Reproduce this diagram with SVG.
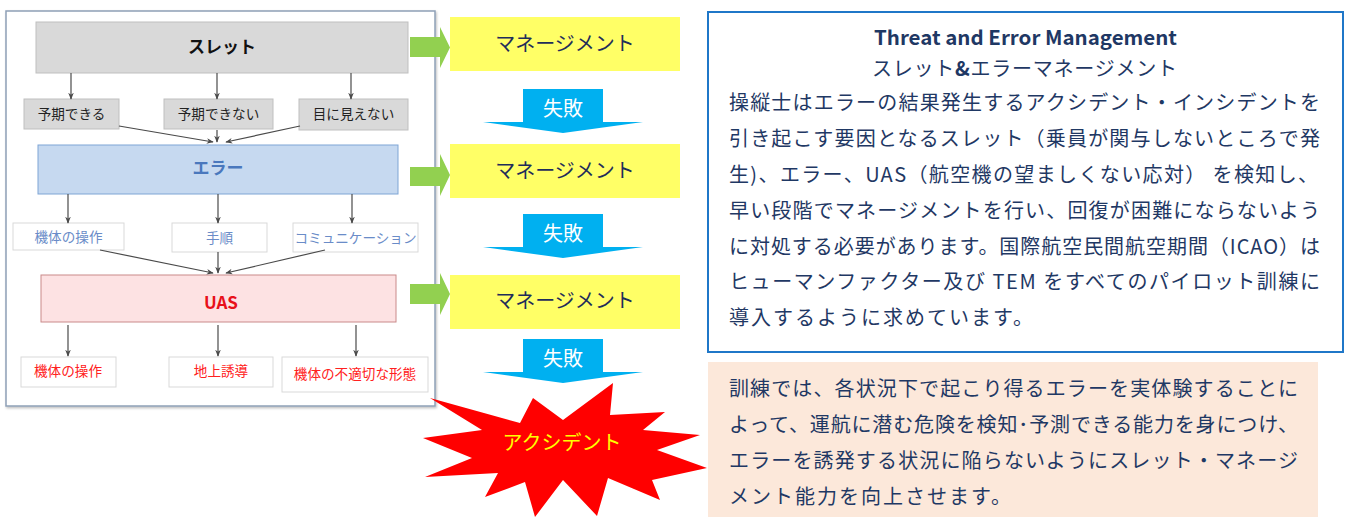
<svg xmlns="http://www.w3.org/2000/svg" width="1352" height="517" viewBox="0 0 1352 517">
<defs>
<marker id="ah" viewBox="0 0 10 10" refX="9" refY="5" markerWidth="7" markerHeight="7" orient="auto" markerUnits="userSpaceOnUse">
<path d="M0,1 L10,5 L0,9 L3,5 z" fill="#4a4a4a"/>
</marker>
<filter id="sh" x="-5%" y="-5%" width="110%" height="110%">
<feDropShadow dx="1" dy="1.5" stdDeviation="1" flood-color="#000" flood-opacity="0.25"/>
</filter>
</defs>
<style>
text{font-family:"Noto Sans CJK JP","Noto Sans",sans-serif;}
.c{text-anchor:middle;}
.conn line{stroke:#4a4a4a;stroke-width:1.2;marker-end:url(#ah);}
.grey{fill:#d9d9d9;stroke:#bfbfbf;stroke-width:1;}
.wb{fill:#ffffff;stroke:#d9d9d9;stroke-width:1;}
.sub{font-size:13.6px;}
.blue{fill:#6a8cc8;}
.red{fill:#ff2020;}
.yel{fill:#ffff66;}
.mg{font-size:20px;fill:#1f2d5a;}
.fail{fill:#00b0f0;}
.ft{font-size:20px;fill:#ffffff;}
.grn{fill:#92d050;}
.body{font-size:20px;fill:#1f3864;letter-spacing:2px;}
</style>

<g id="panel">
<rect x="6" y="11" width="429" height="395" fill="#ffffff" stroke="#8ea0b6" stroke-width="1.5" filter="url(#sh)"/>
</g>

<g id="threat">
<rect x="36" y="22" width="372" height="51" class="grey"/>
<text x="222" y="53" class="c" font-size="17" font-weight="bold" fill="#111">スレット</text>
</g>
<g id="yoki">
<rect x="24" y="99" width="95" height="30" class="grey"/>
<text x="71.5" y="119" class="c sub" fill="#222">予期できる</text>
</g>
<g id="yokinai">
<rect x="164" y="99" width="109" height="30" class="grey"/>
<text x="218.5" y="119" class="c sub" fill="#222">予期できない</text>
</g>
<g id="mienai">
<rect x="299" y="99" width="109" height="31" class="grey"/>
<text x="353.5" y="119" class="c sub" fill="#222">目に見えない</text>
</g>

<g id="error">
<rect x="38" y="145" width="360" height="49" fill="#c6d9f0" stroke="#7fa5d5" stroke-width="1"/>
<text x="218" y="174" class="c" font-size="17" font-weight="bold" fill="#4a78bd">エラー</text>
</g>
<g id="e1">
<rect x="13" y="223" width="111" height="27" class="wb"/>
<text x="68.5" y="242" class="c sub blue">機体の操作</text>
</g>
<g id="e2">
<rect x="172" y="223" width="95" height="29" class="wb"/>
<text x="219.5" y="243" class="c sub blue">手順</text>
</g>
<g id="e3">
<rect x="293" y="223" width="125" height="29" class="wb"/>
<text x="355.5" y="243" class="c sub blue">コミュニケーション</text>
</g>

<g id="uas">
<rect x="41" y="275" width="355" height="47" fill="#fde2e3" stroke="#c98a8a" stroke-width="1"/>
<text x="221" y="309" class="c" font-size="17" font-weight="bold" fill="#e8101a">UAS</text>
</g>
<g id="u1">
<rect x="21" y="357" width="95" height="30" class="wb"/>
<text x="68" y="376" class="c sub red">機体の操作</text>
</g>
<g id="u2">
<rect x="169" y="357" width="104" height="30" class="wb"/>
<text x="221" y="376" class="c sub red">地上誘導</text>
</g>
<g id="u3">
<rect x="282" y="357" width="146" height="35" class="wb"/>
<text x="355" y="379" class="c sub red">機体の不適切な形態</text>
</g>

<g id="connectors" class="conn">
<line x1="71" y1="73" x2="71" y2="99"/>
<line x1="217" y1="73" x2="217" y2="99"/>
<line x1="351" y1="73" x2="351" y2="99"/>
<line x1="119" y1="126" x2="213" y2="142"/>
<line x1="217" y1="130" x2="217" y2="142"/>
<line x1="300" y1="126" x2="226" y2="142"/>
<line x1="68" y1="194" x2="68" y2="223"/>
<line x1="218" y1="194" x2="218" y2="223"/>
<line x1="352" y1="194" x2="352" y2="223"/>
<line x1="100" y1="250" x2="213" y2="273"/>
<line x1="218" y1="252" x2="218" y2="273"/>
<line x1="325" y1="250" x2="226" y2="273"/>
<line x1="68" y1="325" x2="68" y2="356"/>
<line x1="218" y1="325" x2="218" y2="356"/>
<line x1="356" y1="325" x2="356" y2="356"/>
</g>

<g id="green-arrows">
<polygon class="grn" points="410,37 440,37 440,27 450,47.5 440,68 440,57 410,57"/>
<polygon class="grn" points="410,167 440,167 440,154 450,175 440,196 440,186 410,186"/>
<polygon class="grn" points="410,284 440,284 440,273 450,294 440,315 440,304 410,304"/>
</g>

<g id="mgmt1">
<rect x="450" y="17" width="230" height="54" class="yel"/>
<text x="565" y="51" class="c mg">マネージメント</text>
</g>
<g id="mgmt2">
<rect x="450" y="144" width="230" height="54" class="yel"/>
<text x="565" y="178" class="c mg">マネージメント</text>
</g>
<g id="mgmt3">
<rect x="450" y="275" width="230" height="54" class="yel"/>
<text x="565" y="308" class="c mg">マネージメント</text>
</g>

<g id="fail1">
<polygon class="fail" points="523,89 603,89 603,122 643,122 563,133 483,122 523,122"/>
<text x="563" y="116" class="c ft">失敗</text>
</g>
<g id="fail2">
<polygon class="fail" points="523,214 603,214 603,247 643,247 563,258 483,247 523,247"/>
<text x="563" y="241" class="c ft">失敗</text>
</g>
<g id="fail3">
<polygon class="fail" points="523,339 603,339 603,372 643,372 563,383 483,372 523,372"/>
<text x="563" y="366" class="c ft">失敗</text>
</g>

<g id="accident">
<polygon fill="#ff0000" points="613,383 610,415 665,412 643,430 700,435 657,450 707,468 652,480 660,500 608,478 597,516 563,480 535,517 525,482 485,497 498,473 425,477 472,458 423,438 482,430 430,398 520,423 533,398 563,420"/>
<text x="562" y="450" class="c" font-size="20" fill="#ffff00">アクシデント</text>
</g>

<g id="tem-box">
<rect x="708" y="12" width="635" height="340" fill="#ffffff" stroke="#1f77c8" stroke-width="2"/>
<text x="1025.5" y="45" class="c" font-family="'Open Sans','Noto Sans',sans-serif" font-size="20" font-weight="bold" fill="#1f3864" textLength="303" lengthAdjust="spacingAndGlyphs">Threat and Error Management</text>
<text x="1024.5" y="76" class="c" font-size="20" fill="#1f3864" textLength="305" lengthAdjust="spacing">スレット<tspan font-weight="bold">&amp;</tspan>エラーマネージメント</text>
<text x="729" y="110" class="body" textLength="593" lengthAdjust="spacing">操縦士はエラーの結果発生するアクシデント・インシデントを</text>
<text x="729" y="146" class="body" textLength="593" lengthAdjust="spacing">引き起こす要因となるスレット（乗員が関与しないところで発</text>
<text x="729" y="182" class="body" textLength="591" lengthAdjust="spacing">生)、エラー、UAS（航空機の望ましくない応対） を検知し、</text>
<text x="729" y="218" class="body" textLength="593" lengthAdjust="spacing">早い段階でマネージメントを行い、回復が困難にならないよう</text>
<text x="729" y="254" class="body" textLength="593" lengthAdjust="spacing">に対処する必要があります。国際航空民間航空期間（ICAO）は</text>
<text x="729" y="289" class="body" textLength="593" lengthAdjust="spacing">ヒューマンファクター及び TEM をすべてのパイロット訓練に</text>
<text x="729" y="325" class="body">導入するように求めています。</text>
</g>

<g id="training-box">
<rect x="708" y="362" width="610" height="155" fill="#fce8da"/>
<text x="729" y="396" class="body" textLength="571" lengthAdjust="spacing">訓練では、各状況下で起こり得るエラーを実体験することに</text>
<text x="729" y="432" class="body" textLength="571" lengthAdjust="spacing">よって、運航に潜む危険を検知･予測できる能力を身につけ、</text>
<text x="729" y="468" class="body" textLength="571" lengthAdjust="spacing">エラーを誘発する状況に陥らないようにスレット・マネージ</text>
<text x="729" y="504" class="body">メント能力を向上させます。</text>
</g>
</svg>
